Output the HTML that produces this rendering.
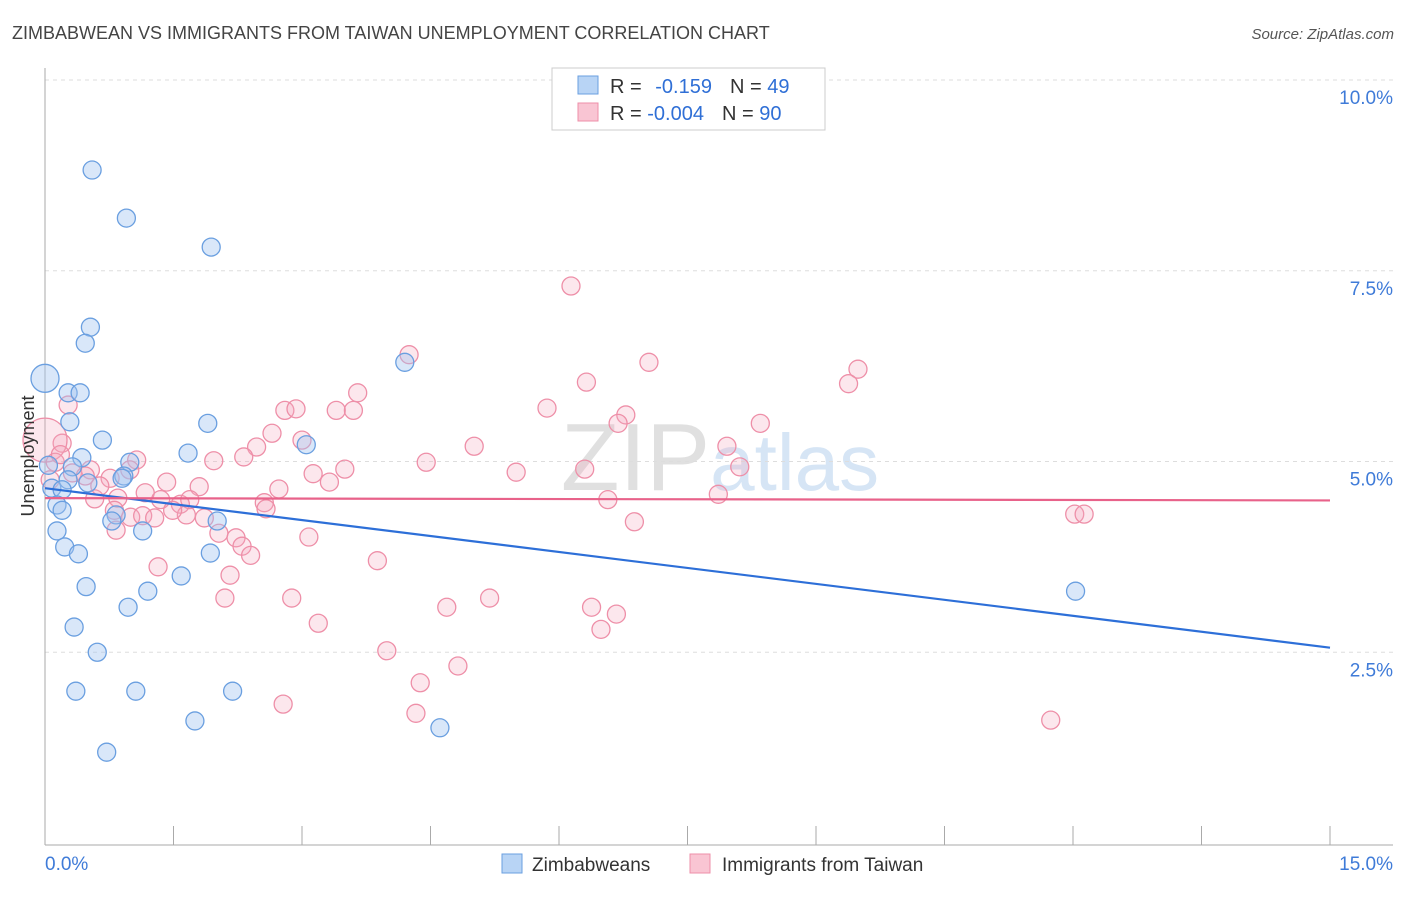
<!DOCTYPE html>
<html><head><meta charset="utf-8"><style>
body{margin:0;background:#fff;font-family:"Liberation Sans",sans-serif;}
svg text{font-family:"Liberation Sans",sans-serif;}
</style></head><body>
<svg id="chart" width="1406" height="892" xmlns="http://www.w3.org/2000/svg">
<text x="12" y="39" font-size="18" fill="#444">ZIMBABWEAN VS IMMIGRANTS FROM TAIWAN UNEMPLOYMENT CORRELATION CHART</text>
<text x="1394" y="39" font-size="15" fill="#555" text-anchor="end" font-style="italic">Source: ZipAtlas.com</text>
<text x="720" y="490" font-size="96" fill="#e4e4e4" text-anchor="middle" font-family="Liberation Serif"><tspan fill="#e0e0e0">ZIP</tspan><tspan fill="#d6e5f5" font-family="Liberation Sans" font-size="80">atlas</tspan></text>
<g id="grid"></g>
<g id="axes"></g>
<g id="pts"></g>
<g id="lines"></g>
<text transform="translate(34,456) rotate(-90)" font-size="18" fill="#333" text-anchor="middle">Unemployment</text>
<g>
<rect x="552" y="68" width="273" height="62" fill="#fff" stroke="#ccc"/>
<rect x="578" y="76" width="20" height="18" fill="#b8d4f5" stroke="#6a9fe0"/>
<rect x="578" y="103" width="20" height="18" fill="#f9c5d3" stroke="#ee8fa8"/>
<text x="610" y="93" font-size="20" fill="#333">R = <tspan fill="#2f6fd6" dx="8">-0.159</tspan><tspan dx="18" fill="#333">N = </tspan><tspan fill="#2f6fd6">49</tspan></text>
<text x="610" y="120" font-size="20" fill="#333">R = <tspan fill="#2f6fd6">-0.004</tspan><tspan dx="18" fill="#333">N = </tspan><tspan fill="#2f6fd6">90</tspan></text>
</g>
<g>
<rect x="502" y="854" width="20" height="19" fill="#b8d4f5" stroke="#6a9fe0"/>
<text x="532" y="871" font-size="19" fill="#333">Zimbabweans</text>
<rect x="690" y="854" width="20" height="19" fill="#f9c5d3" stroke="#ee8fa8"/>
<text x="722" y="871" font-size="19" fill="#333">Immigrants from Taiwan</text>
</g>
</svg>
<script>
const yTicks=[2.5,5,7.5,10];
const yTickLabels=["2.5%","5.0%","7.5%","10.0%"];
const xTickLabels=["0.0%","15.0%"];
const blueX=[0.55,0.95,1.94,0.53,0.47,0.0,0.27,0.41,4.20,0.29,1.90,0.67,1.67,3.05,0.43,0.99,0.92,0.90,0.04,0.32,0.27,0.50,0.08,0.20,0.14,0.20,0.83,0.78,2.01,1.14,0.14,0.23,0.39,1.93,1.59,0.48,1.20,0.97,12.03,0.34,0.61,0.36,1.06,2.19,1.75,4.61,0.72];
const blueY=[8.82,8.19,7.81,6.76,6.55,6.09,5.90,5.90,6.30,5.52,5.50,5.28,5.11,5.22,5.05,4.99,4.81,4.78,4.95,4.93,4.76,4.72,4.65,4.63,4.43,4.36,4.30,4.22,4.22,4.09,4.09,3.88,3.79,3.80,3.50,3.36,3.30,3.09,3.30,2.83,2.50,1.99,1.99,1.99,1.60,1.51,1.19];
const pinkX=[6.14,4.25,7.05,9.49,6.32,9.38,3.65,0.27,5.86,2.80,2.93,3.40,3.60,6.78,6.69,8.35,2.65,0.20,3.00,5.01,7.96,2.47,0.0,1.07,1.97,2.32,4.45,0.12,8.11,3.50,5.50,3.13,6.30,0.53,0.32,0.76,1.42,3.32,2.73,1.80,1.17,0.85,0.58,1.35,1.58,2.56,6.57,7.86,0.81,1.00,1.14,1.28,1.65,1.86,2.23,2.03,2.58,3.08,2.30,2.40,6.88,12.02,12.13,3.88,1.32,2.16,2.10,2.88,5.19,4.69,6.38,6.67,6.49,3.19,3.99,4.82,4.38,2.78,4.33,11.74,0.83,1.49,0.64,0.47,0.99,0.06,0.18,1.69];
const pinkY=[7.30,6.40,6.30,6.21,6.04,6.02,5.90,5.74,5.70,5.67,5.69,5.67,5.67,5.61,5.50,5.50,5.37,5.24,5.28,5.20,5.20,5.19,5.28,5.02,5.01,5.06,4.99,4.99,4.93,4.90,4.86,4.84,4.90,4.89,4.85,4.78,4.73,4.73,4.64,4.67,4.59,4.52,4.51,4.50,4.44,4.46,4.50,4.57,4.36,4.27,4.29,4.26,4.30,4.26,4.00,4.06,4.38,4.01,3.89,3.77,4.21,4.31,4.31,3.70,3.62,3.51,3.21,3.21,3.21,3.09,3.09,3.00,2.80,2.88,2.52,2.32,2.10,1.82,1.70,1.61,4.10,4.36,4.68,4.81,4.89,4.76,5.09,4.50];
const blueTrend=[4.65,2.56];
const pinkTrend=[4.52,4.49];
const NS="http://www.w3.org/2000/svg";
const X0=45,X1=1330,Y0=843,YPER=76.3;
function sx(v){return X0+(X1-X0)*v/15;}
function sy(v){return Y0-v*YPER;}
function mk(t,a,p){const e=document.createElementNS(NS,t);for(const k in a)e.setAttribute(k,a[k]);p.appendChild(e);return e;}
const grid=document.getElementById('grid'),axes=document.getElementById('axes'),pts=document.getElementById('pts'),lines=document.getElementById('lines');
yTicks.forEach((t,i)=>{
  const l=mk('line',{x1:X0,x2:1393,y1:sy(t),y2:sy(t),stroke:'#ddd','stroke-dasharray':'4,4'},grid);
  
  
  const tx=mk('text',{x:1393,y:sy(t)+24,'font-size':19,fill:'#3f7bd8','text-anchor':'end'},axes);
  tx.textContent=yTickLabels[i];
  
  
});
const ya=mk('line',{x1:X0,x2:X0,y1:68,y2:845,stroke:'#aaa'},axes);


const xa=mk('line',{x1:X0,x2:1393,y1:845,y2:845,stroke:'#aaa'},axes);


for(let i=0;i<=10;i++){
  const tk=mk('line',{x1:sx(i*1.5),x2:sx(i*1.5),y1:826,y2:845,stroke:'#aaa'},axes);
  
  
}
const xl0=mk('text',{x:45,y:870,'font-size':19,fill:'#3f7bd8'},axes);xl0.textContent=xTickLabels[0];


const xl1=mk('text',{x:1393,y:870,'font-size':19,fill:'#3f7bd8','text-anchor':'end'},axes);xl1.textContent=xTickLabels[1];


pinkX.forEach((x,i)=>{
  const c=mk('circle',{cx:sx(x),cy:sy(pinkY[i]),r:(x===0?22:9),fill:'rgba(244,170,192,0.28)',stroke:'#ee8fa8','stroke-width':1.3},pts);
  
  
});
blueX.forEach((x,i)=>{
  const c=mk('circle',{cx:sx(x),cy:sy(blueY[i]),r:(x===0?14:9),fill:'rgba(160,196,240,0.4)',stroke:'#6a9fe0','stroke-width':1.3},pts);
  
  
});
const bl=mk('line',{x1:sx(0),y1:sy(blueTrend[0]),x2:sx(15),y2:sy(blueTrend[1]),stroke:'#2d6fd8','stroke-width':2.2},lines);


const pl=mk('line',{x1:sx(0),y1:sy(pinkTrend[0]),x2:sx(15),y2:sy(pinkTrend[1]),stroke:'#e8628a','stroke-width':2.2},lines);


</script>
</body></html>
